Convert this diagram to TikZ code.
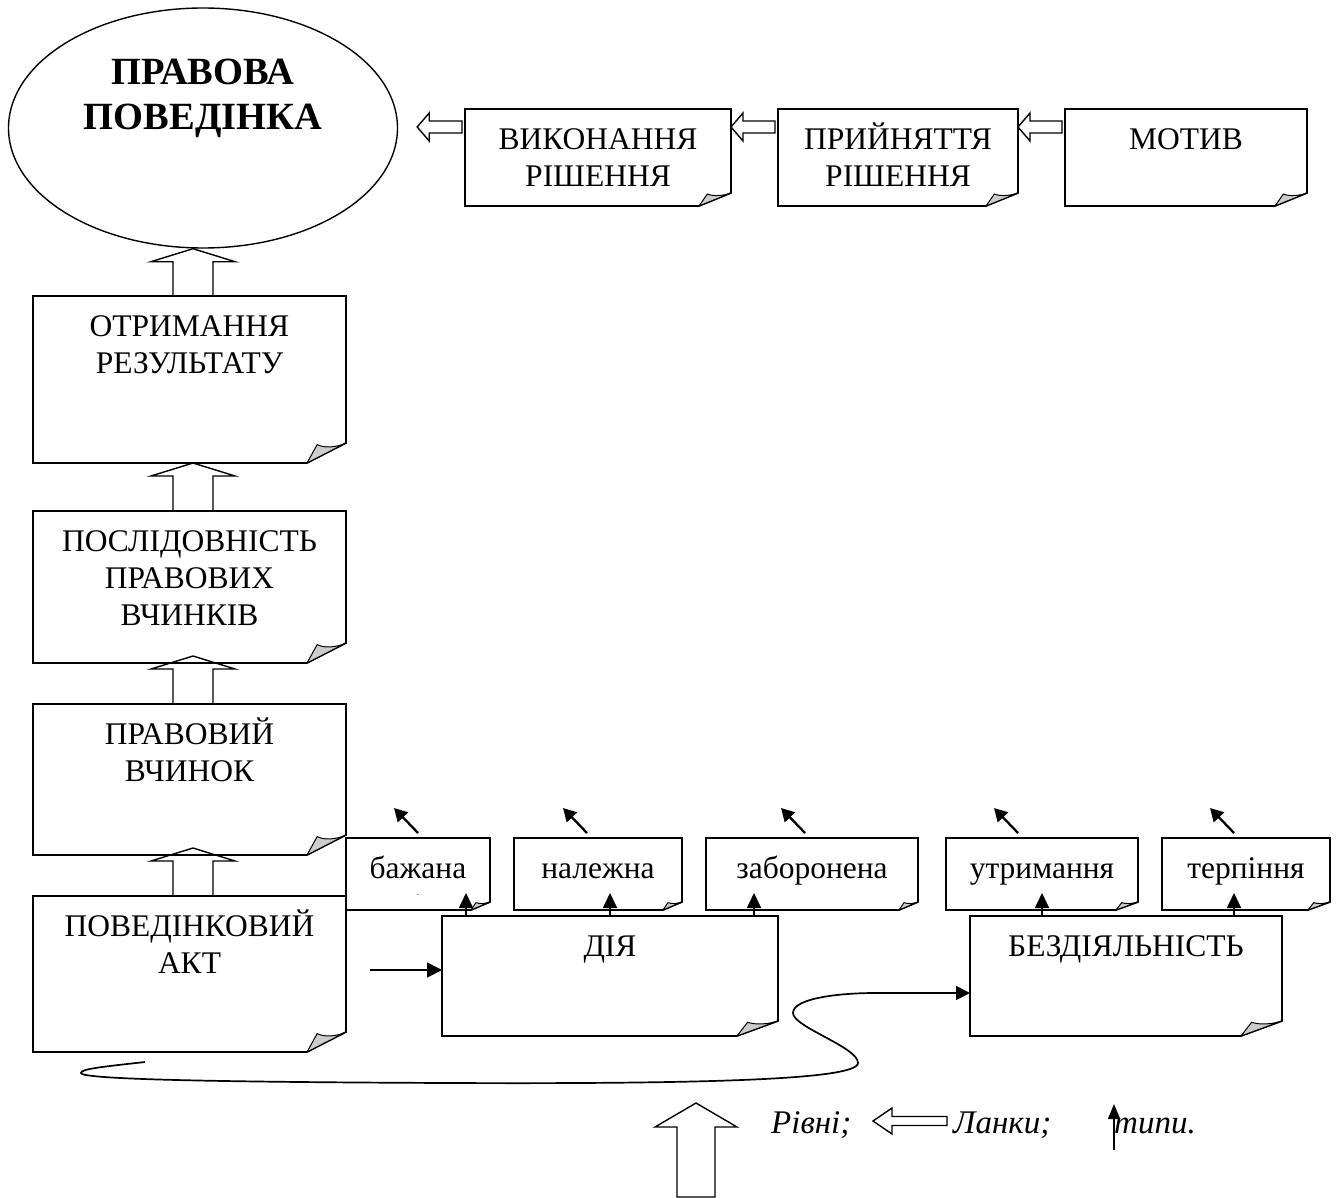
\documentclass[tikz,border=0pt]{standalone}
\usepackage{fontspec}
\setmainfont{Liberation Serif}
\usetikzlibrary{arrows.meta,calc,shapes.geometric}
\newcommand{\mystrut}{\rule{0pt}{30pt}}
\newcommand{\mystrutB}{\rule{0pt}{36pt}}
\tikzset{
  boxarea/.style={inner sep=0pt, outer sep=0pt, draw=none},
  boxline/.style={draw, line width=1.7pt, fill=white, line join=miter},
  curl/.style={draw, line width=1pt, fill=black!20, line join=round},
  boxtext/.style={inner sep=0pt, align=center, font=\fontsize{31.5}{37}\selectfont},
  titletext/.style={inner sep=0pt, align=center, font=\fontsize{38.5}{45}\selectfont\bfseries},
  legendtext/.style={inner sep=0pt, font=\fontsize{33}{37}\selectfont\itshape},
  blockarrow/.style={draw, line width=1.4pt, line join=miter},
  conn/.style={draw, line width=1.7pt},
  typearrow/.style={draw, line width=2.3pt, -{Triangle[length=13pt,width=14pt]}},
  uparrow/.style={draw, line width=1.8pt, -{Triangle[length=15pt,width=14pt]}},
}
% #1 name, #2 x1, #3 y1, #4 x2, #5 y2, #6 fold w, #7 fold h, #8 text
\newcommand{\foldedbox}[8]{%
  \node[boxarea, minimum width={(#4)-(#2)}, minimum height={(#5)-(#3)}] (#1) at ({((#2)+(#4))/2},{((#3)+(#5))/2}) {};
  \draw[boxline] (#1.north west) -- (#1.north east) -- ([yshift=#7]#1.south east) -- ([xshift=-#6]#1.south east) -- (#1.south west) -- cycle;
  \filldraw[curl] ([xshift=-#6]#1.south east) -- ([xshift={-0.74*#6},yshift={0.92*#7}]#1.south east) .. controls ([xshift={-0.55*#6},yshift={0.72*#7}]#1.south east) and ([xshift={-0.2*#6},yshift={0.8*#7}]#1.south east) .. ([yshift=#7]#1.south east) -- cycle;
  \node[boxtext, anchor=north] at ([yshift=-10]#1.north) {\mystrut #8};
}
\newcommand{\upblock}[2]{%
  \draw[blockarrow] let \p1=#1, \p2=#2 in (\x1,\y1) -- (\x1+42pt,\y1-13pt) -- (\x1+20pt,\y1-13pt) -- (\x1+20pt,\y2) -- (\x1-20pt,\y2) -- (\x1-20pt,\y1-13pt) -- (\x1-42pt,\y1-13pt) -- cycle;}
\newcommand{\leftblock}[2]{%
  \draw[blockarrow] let \p1=#1, \p2=#2 in (\x1,\y1) -- (\x1+12pt,\y1+14pt) -- (\x1+12pt,\y1+6pt) -- (\x2,\y1+6pt) -- (\x2,\y1-6pt) -- (\x1+12pt,\y1-6pt) -- (\x1+12pt,\y1-14pt) -- cycle;}
\begin{document}
\begin{tikzpicture}[x=1pt,y=-1pt]
\useasboundingbox (0,0) rectangle (1340,1198);
\fill[white] (0,0) rectangle (1340,1198);

% goal ellipse
\node[ellipse, draw, line width=1.4pt, minimum width=389, minimum height=240, inner sep=0pt] (goal) at (203,128) {};
\node[titletext, anchor=north] at ([yshift=-41]goal.north) {\mystrutB ПРАВОВА\\ПОВЕДІНКА};

% top row
\foldedbox{exec}{465}{109}{731}{206}{32}{13}{ВИКОНАННЯ\\РІШЕННЯ}
\foldedbox{dec}{778}{109}{1018}{206}{32}{13}{ПРИЙНЯТТЯ\\РІШЕННЯ}
\foldedbox{mot}{1065}{109}{1307}{206}{32}{13}{МОТИВ}

% left column
\foldedbox{res}{33}{296}{346}{463}{39}{20}{ОТРИМАННЯ\\РЕЗУЛЬТАТУ}
\foldedbox{seq}{33}{511}{346}{663}{39}{20}{ПОСЛІДОВНІСТЬ\\ПРАВОВИХ\\ВЧИНКІВ}
\foldedbox{deed}{33}{704}{346}{855}{39}{20}{ПРАВОВИЙ\\ВЧИНОК}
\foldedbox{act}{33}{896}{346}{1052}{39}{20}{ПОВЕДІНКОВИЙ\\АКТ}

% action / inaction
\foldedbox{dia}{442}{916}{778}{1036}{41}{15}{ДІЯ}
\foldedbox{bez}{970}{916}{1282}{1036}{41}{15}{БЕЗДІЯЛЬНІСТЬ}

% types
\foldedbox{t1}{346}{838}{490}{910}{19}{8}{бажана\\[-20pt]{\fontsize{9}{9}\selectfont .}}
\foldedbox{t2}{514}{838}{682}{910}{19}{8}{належна}
\foldedbox{t3}{706}{838}{918}{910}{19}{8}{заборонена}
\foldedbox{t4}{946}{838}{1138}{910}{22}{8}{утримання}
\foldedbox{t5}{1162}{838}{1330}{910}{22}{8}{терпіння}

% block arrows (levels)
\coordinate (axis) at (193,0);
\upblock{(goal.south -| axis)}{(res.north -| axis)}
\upblock{(res.south -| axis)}{(seq.north -| axis)}
\upblock{($(seq.south -| axis)+(0,-7)$)}{(deed.north -| axis)}
\upblock{($(deed.south -| axis)+(0,-7)$)}{(act.north -| axis)}

% block arrows (links)
\coordinate (rowy) at (0,127);
\leftblock{($(goal.east |- rowy)+(19,0)$)}{($(exec.west |- rowy)+(-3,0)$)}
\leftblock{(exec.east |- rowy)}{($(dec.west |- rowy)+(-3,0)$)}
\leftblock{(dec.east |- rowy)}{($(mot.west |- rowy)+(-3,0)$)}

% type arrows
\draw[uparrow] ($(dia.north west)+(24,0)$) -- ++(0,-23);
\draw[uparrow] ($(dia.north west)+(168,0)$) -- ++(0,-23);
\draw[uparrow] ($(dia.north west)+(312,0)$) -- ++(0,-23);
\draw[uparrow] ($(bez.north west)+(72,0)$) -- ++(0,-23);
\draw[uparrow] ($(bez.north west)+(264,0)$) -- ++(0,-23);

% small diagonal arrows
\draw[typearrow] ($(t1.north west)+(72,-5)$) -- ++(-24,-25);
\draw[typearrow] ($(t2.north west)+(73,-5)$) -- ++(-24,-25);
\draw[typearrow] ($(t3.north west)+(99,-5)$) -- ++(-24,-25);
\draw[typearrow] ($(t4.north west)+(72,-5)$) -- ++(-24,-25);
\draw[typearrow] ($(t5.north west)+(72,-5)$) -- ++(-24,-25);

% act -> dia
\coordinate (astart) at (370,970);
\draw[conn, -{Triangle[length=15pt,width=15pt]}] (astart) -- (astart -| dia.west);

% act -> bez (curved)
\coordinate (cstart) at (145,1062);
\coordinate (cend) at (875,993);
\draw[conn, -{Triangle[length=14pt,width=14pt]}] (cstart) .. controls (100,1067) and (81,1069) .. (81,1073) .. controls (81,1079) and (200,1082) .. (450,1083) .. controls (700,1084) and (858,1080) .. (858,1063) .. controls (858,1047) and (793,1027) .. (793,1013) .. controls (793,998) and (840,993) .. (cend) -- (cend -| bez.west);

% legend
\draw[blockarrow] (696,1103) -- (737,1127) -- (715,1127) -- (715,1197) -- (677,1197) -- (677,1127) -- (655,1127) -- cycle;
\node[legendtext, anchor=base west] (lg1) at (771,1133) {Рівні;};
\draw[blockarrow] (873,1121) -- (892,1108) -- (892,1116.5) -- (947,1116.5) -- (947,1125.5) -- (892,1125.5) -- (892,1134) -- cycle;
\node[legendtext, anchor=base west] (lg2) at (953,1133) {Ланки;};
\coordinate (lgs) at (1114,1150);
\draw[conn, -{Triangle[length=15pt,width=12pt]}] (lgs) -- ++(0,-46);
\node[legendtext, anchor=base west] (lg3) at (1114,1133) {типи.};
\end{tikzpicture}
\end{document}
